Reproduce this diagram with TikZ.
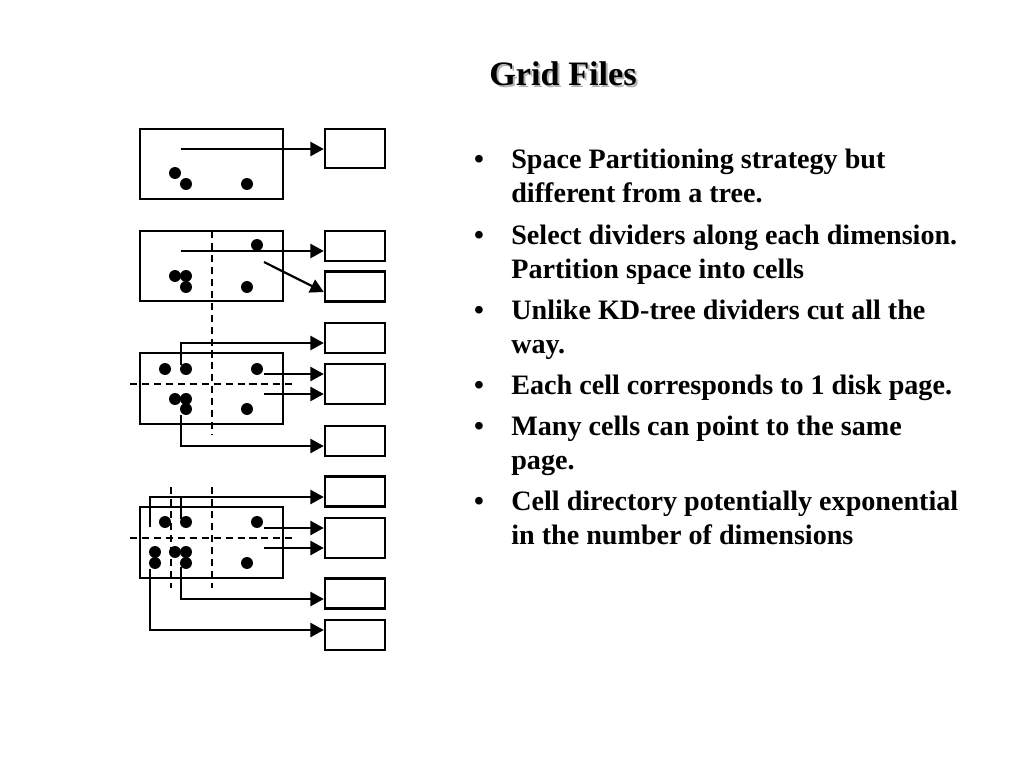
\documentclass[tikz,border=0pt]{standalone}
\usepackage{fontspec}
\setmainfont{Liberation Serif}
\usetikzlibrary{arrows.meta}

\tikzset{
  page/.style={draw, line width=1.4pt, minimum width=1.2cm, minimum height=0.6cm, inner sep=0pt},
  bigpage/.style={page, minimum height=0.8cm},
  cellbox/.style={line width=1.4pt},
  divider/.style={line width=1.25pt, dash pattern=on 4pt off 2.8pt},
  link/.style={line width=1.25pt},
  ptr/.style={link, -{Triangle[length=7.6pt,width=8pt]}},
  item/.style={anchor=base west, align=left, inner sep=0pt, font=\fontsize{16}{19.3}\selectfont\bfseries},
  bul/.style={anchor=base, inner sep=0pt, font=\fontsize{16}{19.3}\selectfont\bfseries}
}

\begin{document}
\begin{tikzpicture}[x=0.02cm, y=-0.02cm]
\useasboundingbox (0,0) rectangle (1024,768);

% title
\node[anchor=base, text=gray!60, font=\fontsize{19.5}{23}\selectfont\bfseries] (titleshadow) at (565,87) {Grid Files};
\node[anchor=base, font=\fontsize{19.5}{23}\selectfont\bfseries] (title) at (563,85) {Grid Files};

% one page
\draw[cellbox] (140,129) rectangle (283,199);
\foreach \x/\y in {175/173,186/184,247/184} \fill (\x,\y) circle (3.4pt);
\node[page, minimum height=0.78cm] (p1) at (355,148.5) {};
\coordinate (a1) at (181,149);
\draw[ptr] (a1) -- (a1 -| p1.west);

% split in x
\draw[cellbox] (140,231) rectangle (283,301);
\draw[divider] (212,231) -- (212,435);
\foreach \x/\y in {257/245,175/276,186/276,186/287,247/287} \fill (\x,\y) circle (3.4pt);
\node[page] (q1) at (355,246) {};
\node[page] (q2) at (355,286.5) {};
\coordinate (a2) at (181,251);
\coordinate (b2) at (264,262);
\draw[ptr] (a2) -- (a2 -| q1.west);
\draw[ptr] (b2) -- (q2.190);

% split in y
\draw[cellbox] (140,353) rectangle (283,424);
\draw[divider] (130,384) -- (293,384);
\foreach \x/\y in {165/369,186/369,257/369,175/399,186/399,186/409,247/409} \fill (\x,\y) circle (3.4pt);
\node[page] (r1) at (355,338) {};
\node[bigpage] (r2) at (355,384) {};
\node[page] (r3) at (355,441) {};
\coordinate (a3) at (181,365);
\coordinate (k3) at (181,343);
\coordinate (b3) at (264,374);
\coordinate (c3) at (264,394);
\coordinate (d3) at (181,415);
\coordinate (m3) at (181,446);
\draw[ptr] (a3) -- (k3) -- (k3 -| r1.west);
\draw[ptr] (b3) -- (b3 -| r2.west);
\draw[ptr] (c3) -- (c3 -| r2.west);
\draw[ptr] (d3) -- (m3) -- (m3 -| r3.west);

% split in x again
\draw[cellbox] (140,507) rectangle (283,578);
\draw[divider] (171,487) -- (171,588);
\draw[divider] (212,487) -- (212,588);
\draw[divider] (130,538) -- (293,538);
\foreach \x/\y in {165/522,186/522,257/522,155/552,155/563,175/552,186/552,186/563,247/563} \fill (\x,\y) circle (3.4pt);
\node[page] (s1) at (355,491.5) {};
\node[bigpage] (s2) at (355,538) {};
\node[page] (s3) at (355,593.5) {};
\node[page] (s4) at (355,635) {};
\coordinate (a4) at (150,527);
\coordinate (k4) at (150,497);
\coordinate (e4) at (181,519);
\coordinate (b4) at (264,528);
\coordinate (c4) at (264,548);
\coordinate (d4) at (181,567);
\coordinate (m4) at (181,599);
\coordinate (f4) at (150,569);
\coordinate (n4) at (150,630);
\draw[ptr] (a4) -- (k4) -- (k4 -| s1.west);
\draw[link] (e4) -- (e4 |- k4);
\draw[ptr] (b4) -- (b4 -| s2.west);
\draw[ptr] (c4) -- (c4 -| s2.west);
\draw[ptr] (d4) -- (m4) -- (m4 -| s3.west);
\draw[ptr] (f4) -- (n4) -- (n4 -| s4.west);

% bullets (base is the last line of each item)
\foreach \y [count=\i] in {168,244,319,394,435,510} \node[bul] (bul\i) at (479,\y) {\textbullet};
\node[item] (i1) at (511,202) {Space Partitioning strategy but\\different from a tree.};
\node[item] (i2) at (511,278) {Select dividers along each dimension.\\Partition space into cells};
\node[item] (i3) at (511,353) {Unlike KD-tree dividers cut all the\\way.};
\node[item] (i4) at (511,394) {Each cell corresponds to 1 disk page.};
\node[item] (i5) at (511,469) {Many cells can point to the same\\page.};
\node[item] (i6) at (511,544) {Cell directory potentially exponential\\in the number of dimensions};
\end{tikzpicture}
\end{document}
